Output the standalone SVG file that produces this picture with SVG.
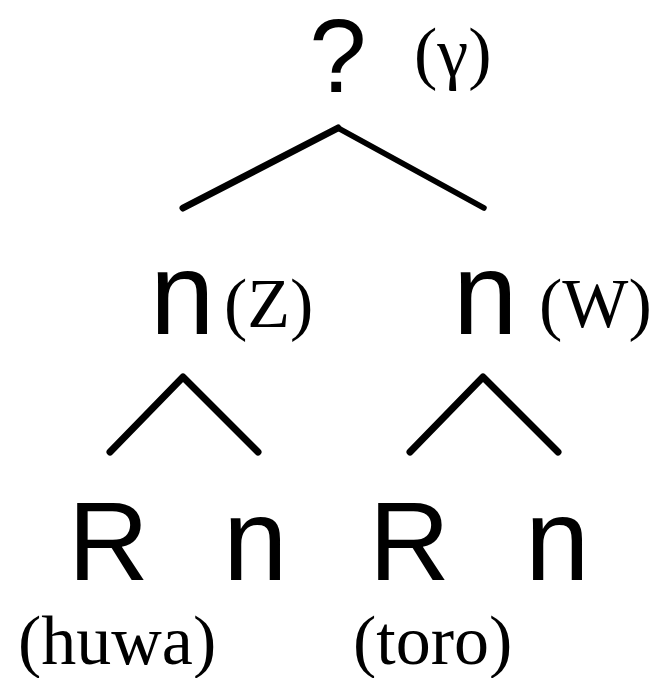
<svg xmlns="http://www.w3.org/2000/svg" width="656" height="678" viewBox="0 0 656 678">
<style>
.s{font-family:"Liberation Sans",Arial,sans-serif;fill:#000}
.t{font-family:"Liberation Serif","Times New Roman",serif;fill:#000;font-size:70px}
.e{stroke:#000;fill:none;stroke-linecap:round;stroke-linejoin:round}
</style>
<rect width="656" height="678" fill="#fff"/>
<g id="connectors">
<path class="e" d="M183,208 L338,128" stroke-width="7"/>
<path class="e" d="M338,128 L484,208" stroke-width="5.5"/>
<path class="e" d="M110,452 L183,377 L258,452" stroke-width="7"/>
<path class="e" d="M410,452 L483,377 L558,452" stroke-width="7"/>
</g>
<g id="root">
<text class="s" x="338" y="92" font-size="103" text-anchor="middle">?</text>
<text class="t" x="414" y="76">(γ)</text>
</g>
<g id="nZ">
<text class="s" x="150" y="334" font-size="116">n</text>
<text class="t" x="224" y="327">(Z)</text>
</g>
<g id="nW">
<text class="s" x="453" y="334" font-size="116">n</text>
<text class="t" x="539" y="327">(W)</text>
</g>
<g id="R1">
<text class="s" x="68" y="580" font-size="112">R</text>
<text class="t" x="18" y="664" font-size="72">(huwa)</text>
</g>
<g id="n1">
<text class="s" x="223" y="580" font-size="116">n</text>
</g>
<g id="R2">
<text class="s" x="369" y="580" font-size="112">R</text>
<text class="t" x="353" y="664">(toro)</text>
</g>
<g id="n2">
<text class="s" x="525" y="580" font-size="116">n</text>
</g>
</svg>
